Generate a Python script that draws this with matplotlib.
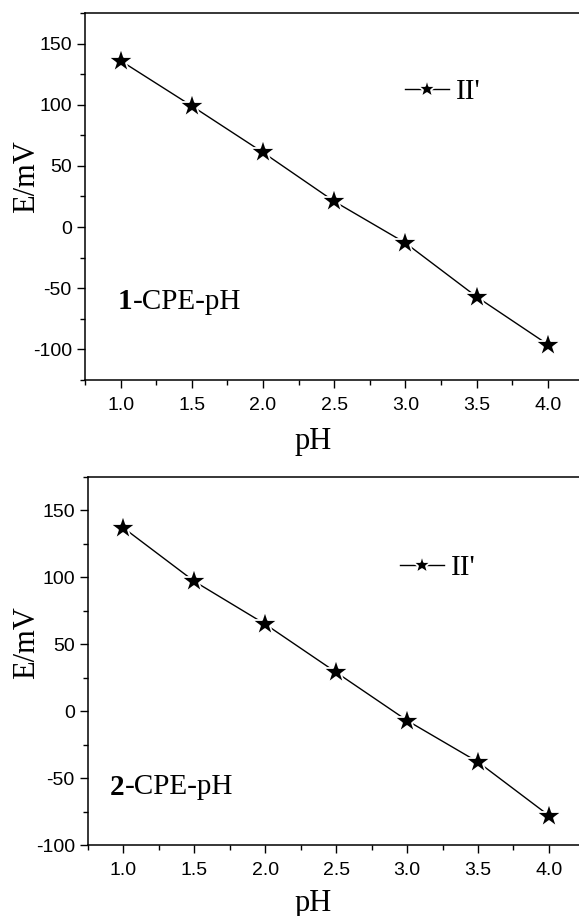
import numpy as np
import matplotlib
matplotlib.use('Agg')
import matplotlib.pyplot as plt
from matplotlib.ticker import MultipleLocator

ph = [1.0, 1.5, 2.0, 2.5, 3.0, 3.5, 4.0]
e_cpe1 = [136, 99, 61, 21, -13, -57, -96]
e_cpe2 = [137, 97, 65, 29, -7, -38, -78]
series_name = "II'"
panel_ids = ['1', '2']

plt.rcParams['axes.unicode_minus'] = False

W, H = 579, 916
fig = plt.figure(figsize=(W / 100, H / 100), dpi=100)

sans = ['Liberation Sans', 'DejaVu Sans']
serif = ['Liberation Serif', 'DejaVu Serif']

# pixel layout: left, bottom spine, top spine, right (past the image edge)
panels = [
    dict(y=e_cpe1, rect=(85, 380, 13, 583.5), ylim=(-125, 175), leg=(0.642, 0.785),
         lab=(0.98, -61), ylab_y=177, xlab_y=442),
    dict(y=e_cpe2, rect=(88, 845, 477, 584.4), ylim=(-100, 175), leg=(0.629, 0.753),
         lab=(0.905, -57), ylab_y=643, xlab_y=903),
]

for pid, p in zip(panel_ids, panels):
    l, b, t, r = p['rect']
    ax = fig.add_axes([l / W, (H - b) / H, (r - l) / W, (b - t) / H])
    ax.plot(ph, p['y'], color='black', lw=1.0, marker='*', ms=19,
            mfc='black', mec='white', mew=1.3, label=series_name)
    ax.set_xlim(0.75, 4.25)
    ax.set_ylim(*p['ylim'])
    ax.xaxis.set_major_locator(MultipleLocator(0.5))
    ax.xaxis.set_minor_locator(MultipleLocator(0.25))
    ax.yaxis.set_major_locator(MultipleLocator(50))
    ax.yaxis.set_minor_locator(MultipleLocator(25))
    ax.tick_params(which='both', direction='out', top=False, right=False, width=1)
    ax.tick_params(which='major', length=6, labelsize=14)
    ax.tick_params(which='minor', length=3.5)
    ax.tick_params(axis='x', which='major', pad=6)
    for lbl in ax.get_xticklabels() + ax.get_yticklabels():
        lbl.set_family(sans)
    ax.spines['right'].set_visible(False)
    for s in ['left', 'bottom', 'top']:
        ax.spines[s].set_linewidth(1.1)

    fig.text(27 / W, 1 - p['ylab_y'] / H, 'E/mV', family=serif, fontsize=22,
             rotation=90, ha='center', va='center')
    fig.text(313 / W, 1 - p['xlab_y'] / H, 'pH', family=serif, fontsize=22,
             ha='center', va='center')

    ax.legend(loc='center left', bbox_to_anchor=p['leg'], frameon=False,
              prop=dict(family=serif, size=21), markerscale=0.75,
              handlelength=1.5, handletextpad=0.25, borderaxespad=0, borderpad=0)

    t1 = ax.text(p['lab'][0], p['lab'][1], pid, family=serif, fontsize=21,
                 fontweight='bold', va='center', ha='left')
    ax.annotate('-CPE-pH', xy=(1, 0.5), xycoords=t1, va='center', ha='left',
                family=serif, fontsize=21)

fig.savefig('out.png', dpi=100)
